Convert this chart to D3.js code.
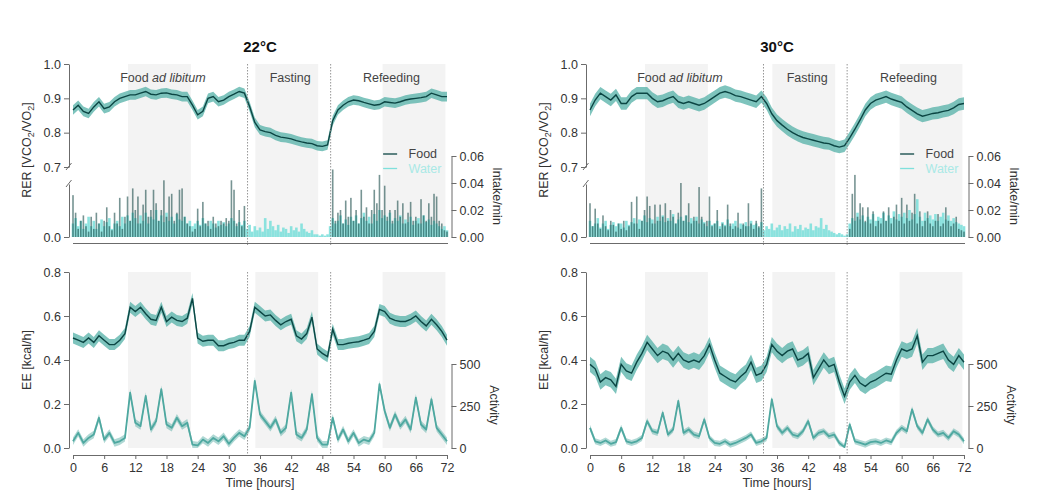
<!DOCTYPE html>
<html>
<head>
<meta charset="utf-8">
<script src="https://cdn.jsdelivr.net/npm/d3@7"></script>
<style>
body { margin: 0; background: #fff; }
svg { font-family: "Liberation Sans", Arial, Helvetica, sans-serif; }
.axis path, .axis line { stroke: #6b6b6b; }
.axis text { fill: #333; font-size: 12.5px; font-family: "Liberation Sans", Arial, sans-serif; }
</style>
</head>
<body>
<svg id="chart" width="1056" height="503"></svg>
<script>
// time grid: hourly means for RER / EE / activity, half-hour bins for intake
var hours = d3.range(0, 73);
var halfHours = d3.range(0, 145).map(function(i) { return i / 2; });
var timeTicks = d3.range(0, 73, 6);
var darkPhases = [[10.6, 22.7], [35.1, 47.2], [59.6, 71.7]];
var phaseLabels = ["Food", "Fasting", "Refeeding"];
var phaseHours = [17.3, 41.8, 61.3];
var titles = ["22°C", "30°C"];
var switchHours = [[33.6, 49.6], [33.4, 49.5]];

var rer22 = [
  0.866,0.88,0.862,0.856,0.875,0.89,0.87,0.875,0.89,0.9,
  0.905,0.91,0.91,0.915,0.92,0.912,0.91,0.915,0.916,0.912,
  0.91,0.905,0.905,0.88,0.852,0.862,0.9,0.905,0.89,0.895,
  0.905,0.912,0.92,0.915,0.876,0.83,0.808,0.803,0.8,0.792,
  0.787,0.785,0.782,0.777,0.773,0.77,0.768,0.762,0.76,0.764,
  0.835,0.866,0.88,0.89,0.895,0.893,0.888,0.884,0.88,0.882,
  0.89,0.888,0.886,0.89,0.895,0.898,0.9,0.902,0.905,0.915,
  0.91,0.905,0.905];
var rer30 = [
  0.866,0.895,0.915,0.905,0.895,0.91,0.885,0.885,0.905,0.915,
  0.915,0.915,0.9,0.89,0.893,0.9,0.905,0.89,0.885,0.89,
  0.885,0.88,0.885,0.895,0.905,0.915,0.92,0.915,0.908,0.905,
  0.9,0.895,0.89,0.905,0.885,0.855,0.835,0.822,0.81,0.8,
  0.792,0.786,0.782,0.778,0.774,0.77,0.768,0.762,0.758,0.762,
  0.785,0.81,0.837,0.866,0.885,0.895,0.9,0.905,0.898,0.893,
  0.888,0.875,0.865,0.855,0.848,0.852,0.856,0.858,0.862,0.865,
  0.872,0.882,0.885];
var ee22 = [
  0.50,0.49,0.48,0.50,0.48,0.51,0.49,0.47,0.47,0.49,
  0.52,0.64,0.62,0.64,0.61,0.585,0.58,0.64,0.575,0.595,
  0.58,0.575,0.59,0.68,0.50,0.485,0.49,0.49,0.465,0.465,
  0.475,0.48,0.49,0.49,0.53,0.64,0.62,0.60,0.605,0.58,
  0.56,0.575,0.585,0.51,0.495,0.52,0.595,0.45,0.43,0.415,
  0.54,0.47,0.47,0.476,0.48,0.483,0.49,0.498,0.53,0.63,
  0.62,0.59,0.58,0.575,0.575,0.585,0.60,0.575,0.555,0.585,
  0.56,0.53,0.49];
var ee30 = [
  0.38,0.36,0.30,0.32,0.31,0.28,0.38,0.35,0.34,0.39,
  0.43,0.48,0.45,0.42,0.44,0.43,0.40,0.43,0.40,0.39,
  0.40,0.39,0.42,0.47,0.40,0.34,0.325,0.31,0.30,0.325,
  0.345,0.39,0.33,0.34,0.38,0.47,0.44,0.42,0.44,0.45,
  0.40,0.41,0.43,0.32,0.36,0.40,0.37,0.38,0.30,0.235,
  0.30,0.33,0.295,0.28,0.30,0.31,0.325,0.34,0.335,0.40,
  0.45,0.44,0.45,0.51,0.39,0.42,0.42,0.43,0.44,0.40,
  0.38,0.42,0.39];
var act22 = [
  40,90,30,60,80,180,50,90,30,40,
  60,330,150,130,310,110,160,350,140,120,
  180,130,150,20,15,50,30,60,40,70,
  25,60,90,70,120,400,200,160,120,170,
  90,120,330,80,60,110,320,60,20,20,
  180,50,110,40,90,30,50,40,90,380,
  220,120,200,130,170,110,300,140,110,290,
  120,80,40];
var act30 = [
  120,40,30,45,25,35,120,40,30,40,
  60,160,100,90,210,80,110,280,90,110,
  80,70,170,60,30,25,40,20,30,45,
  60,80,30,40,60,290,130,90,120,80,
  70,100,160,60,90,100,70,80,30,5,
  140,40,30,20,35,40,30,45,35,90,
  120,100,230,130,90,170,110,80,90,60,
  100,80,40];

var food22 = [
  0.031,0.018,0.006,0.012,0.016,0.008,0.004,0.015,0.006,0.018,0.010,0.004,
  0.012,0.022,0.008,0.005,0.018,0.010,0.029,0.006,0.015,0.030,0.012,0.036,
  0.020,0.030,0.010,0.024,0.035,0.015,0.020,0.035,0.025,0.012,0.020,0.042,
  0.015,0.030,0.032,0.012,0.018,0.035,0.036,0.015,0.010,0.008,0.004,0.006,
  0.021,0.008,0.026,0.010,0.012,0.006,0.015,0.010,0.008,0.012,0.010,0.014,
  0.012,0.042,0.035,0.010,0.020,0.008,0.023,0,0,0,0,0,
  0,0,0,0,0,0,0,0,0,0,0,0,
  0,0,0,0,0,0,0,0,0,0,0,0,
  0,0,0,0,0.050,0.012,0.018,0.020,0.010,0.027,0.015,0.029,
  0.012,0.020,0.010,0.035,0.015,0.022,0.010,0.020,0.035,0.025,0.046,0.020,
  0.038,0.015,0.020,0.012,0.020,0.027,0.015,0.025,0.010,0.018,0.026,0.012,
  0.015,0.010,0.028,0.016,0.012,0.025,0.015,0.032,0.030,0.012,0.010,0.005,
  0.004];
var water22 = [
  0.010,0.014,0.008,0.012,0.006,0.010,0.015,0.008,0.012,0.006,0.010,0.013,
  0.008,0.011,0.014,0.006,0.010,0.012,0.008,0.015,0.010,0.016,0.012,0.018,
  0.014,0.010,0.016,0.012,0.018,0.010,0.015,0.013,0.020,0.012,0.016,0.011,
  0.018,0.012,0.015,0.010,0.017,0.013,0.012,0.015,0.010,0.012,0.008,0.010,
  0.012,0.009,0.014,0.010,0.008,0.012,0.010,0.007,0.012,0.009,0.011,0.008,
  0.010,0.014,0.012,0.008,0.011,0.009,0.012,0.006,0.009,0.004,0.008,0.005,
  0.007,0.004,0.014,0.006,0.012,0.008,0.005,0.009,0.004,0.007,0.006,0.003,
  0.008,0.005,0.007,0.004,0.010,0.006,0.004,0.003,0.005,0.002,0.002,0.001,
  0.002,0.001,0.002,0.008,0.014,0.010,0.012,0.016,0.010,0.013,0.009,0.015,
  0.012,0.016,0.010,0.014,0.018,0.012,0.015,0.010,0.017,0.012,0.020,0.014,
  0.016,0.012,0.018,0.010,0.014,0.012,0.016,0.010,0.013,0.011,0.015,0.009,
  0.012,0.014,0.010,0.016,0.011,0.013,0.009,0.012,0.010,0.008,0.006,0.008,
  0.005];
var food30 = [
  0.025,0.008,0.021,0.010,0.006,0.016,0.008,0.005,0.012,0.009,0.004,0.010,
  0.006,0.012,0.005,0.008,0.026,0.010,0.030,0.006,0.012,0.020,0.030,0.023,
  0.010,0.024,0.012,0.024,0.015,0.025,0.012,0.020,0.015,0.010,0.018,0.040,
  0.012,0.016,0.025,0.010,0.015,0.012,0.037,0.015,0.010,0.012,0.030,0.008,
  0.010,0.020,0.006,0.010,0.008,0.024,0.010,0.006,0.008,0.018,0.006,0.010,
  0.008,0.025,0.010,0.006,0.012,0.008,0.036,0,0,0,0,0,
  0,0,0,0,0,0,0,0,0,0,0,0,
  0,0,0,0,0,0,0,0,0,0,0,0,
  0,0,0,0,0.006,0.032,0.046,0.015,0.025,0.022,0.012,0.022,
  0.010,0.019,0.008,0.012,0.010,0.019,0.012,0.022,0.010,0.015,0.024,0.012,
  0.029,0.010,0.024,0.012,0.018,0.032,0.010,0.019,0.008,0.012,0.019,0.010,
  0.008,0.012,0.017,0.008,0.010,0.022,0.012,0.008,0.010,0.015,0.006,0.005,
  0.004];
var water30 = [
  0.012,0.008,0.010,0.014,0.007,0.010,0.012,0.006,0.009,0.011,0.008,0.010,
  0.010,0.007,0.012,0.009,0.011,0.014,0.010,0.013,0.012,0.016,0.011,0.014,
  0.013,0.010,0.015,0.012,0.016,0.011,0.014,0.012,0.017,0.010,0.013,0.015,
  0.012,0.016,0.011,0.014,0.012,0.015,0.010,0.013,0.011,0.008,0.012,0.009,
  0.010,0.012,0.008,0.011,0.009,0.013,0.008,0.010,0.012,0.007,0.010,0.009,
  0.011,0.008,0.012,0.009,0.010,0.007,0.011,0.005,0.008,0.006,0.010,0.005,
  0.007,0.009,0.005,0.008,0.006,0.010,0.004,0.008,0.006,0.009,0.005,0.007,
  0.006,0.010,0.005,0.008,0.007,0.014,0.006,0.009,0.005,0.004,0.003,0.002,
  0.003,0.002,0.001,0.002,0.010,0.014,0.012,0.018,0.013,0.016,0.011,0.015,
  0.013,0.017,0.012,0.015,0.014,0.018,0.012,0.016,0.014,0.019,0.013,0.017,
  0.015,0.018,0.014,0.020,0.013,0.017,0.028,0.015,0.012,0.018,0.014,0.016,
  0.013,0.017,0.012,0.015,0.018,0.013,0.016,0.012,0.014,0.011,0.010,0.009,
  0.008];

// spread of the group traces (half-width of the light band)
var semRER = [0.014, 0.018];
var semEE = [0.025, 0.035];
var semAct = [22, 18];

var panels = [
  { x0: 73, rer: rer22, ee: ee22, act: act22, food: food22, water: water22 },
  { x0: 590, rer: rer30, ee: ee30, act: act30, food: food30, water: water30 }
];

var svg = d3.select("#chart");

var yRER = d3.scaleLinear().domain([0.7, 1.0]).range([167, 64]);
var yIntake = d3.scaleLinear().domain([0, 0.06]).range([237, 156]);
var yEE = d3.scaleLinear().domain([0, 0.8]).range([448, 272]);
var yAct = d3.scaleLinear().domain([0, 500]).range([448, 364]);

var darkLine = "#0b4543", bandCol = "#47aba1", actCol = "#4ea8a0";
var foodCol = "#1d4d4b", waterCol = "#7fe0dc";

panels.forEach(function(p, pi) {
  var x = d3.scaleLinear().domain([0, 72]).range([p.x0, p.x0 + 374]);
  var axL = p.x0 - 4, axR = p.x0 + 378.5;
  var g = svg.append("g");

  // night shading
  g.selectAll(".shTop").data(darkPhases).enter().append("rect")
    .attr("x", function(d) { return x(d[0]); })
    .attr("width", function(d) { return x(d[1]) - x(d[0]); })
    .attr("y", yRER(1.0)).attr("height", yIntake(0) - yRER(1.0))
    .style("fill", "#f3f3f3");
  g.selectAll(".shBot").data(darkPhases).enter().append("rect")
    .attr("x", function(d) { return x(d[0]); })
    .attr("width", function(d) { return x(d[1]) - x(d[0]); })
    .attr("y", yEE(0.8)).attr("height", yEE(0) - yEE(0.8))
    .style("fill", "#f3f3f3");

  // intake bars
  g.selectAll(".water").data(p.water).enter().append("rect")
    .attr("x", function(d, i) { return x(halfHours[i]) - 1.3; })
    .attr("width", 2.6)
    .attr("y", function(d) { return yIntake(d); })
    .attr("height", function(d) { return yIntake(0) - yIntake(d); })
    .style("fill", waterCol).style("opacity", 0.9);
  g.selectAll(".food").data(p.food).enter().append("rect")
    .attr("x", function(d, i) { return x(halfHours[i]) - 0.8; })
    .attr("width", 1.6)
    .attr("y", function(d) { return yIntake(d); })
    .attr("height", function(d) { return yIntake(0) - yIntake(d); })
    .style("fill", foodCol).style("opacity", 0.6);

  // RER band + mean
  var rerBand = d3.area()
    .x(function(d, i) { return x(hours[i]); })
    .y0(function(d) { return yRER(d - semRER[pi]); })
    .y1(function(d) { return yRER(d + semRER[pi]); });
  var rerLine = d3.line()
    .x(function(d, i) { return x(hours[i]); })
    .y(function(d) { return yRER(d); });
  g.append("path").datum(p.rer).attr("d", rerBand)
    .style("fill", bandCol).style("opacity", 0.7);
  g.append("path").datum(p.rer).attr("d", rerLine)
    .style("fill", "none").style("stroke", darkLine).style("stroke-width", 1.4);

  // EE band + mean
  var eeBand = d3.area()
    .x(function(d, i) { return x(hours[i]); })
    .y0(function(d) { return yEE(d - semEE[pi]); })
    .y1(function(d) { return yEE(d + semEE[pi]); });
  var eeLine = d3.line()
    .x(function(d, i) { return x(hours[i]); })
    .y(function(d) { return yEE(d); });
  g.append("path").datum(p.ee).attr("d", eeBand)
    .style("fill", bandCol).style("opacity", 0.7);
  g.append("path").datum(p.ee).attr("d", eeLine)
    .style("fill", "none").style("stroke", darkLine).style("stroke-width", 1.4);

  // activity
  var actBand = d3.area()
    .x(function(d, i) { return x(hours[i]); })
    .y0(function(d) { return yAct(Math.max(0, d - semAct[pi])); })
    .y1(function(d) { return yAct(d + semAct[pi]); });
  var actLine = d3.line()
    .x(function(d, i) { return x(hours[i]); })
    .y(function(d) { return yAct(d); });
  g.append("path").datum(p.act).attr("d", actBand)
    .style("fill", actCol).style("opacity", 0.45);
  g.append("path").datum(p.act).attr("d", actLine)
    .style("fill", "none").style("stroke", actCol).style("stroke-width", 1.8)
    .style("stroke-linejoin", "round");

  // phase switch lines
  switchHours[pi].forEach(function(h) {
    [[yRER(1.0), 245], [yEE(0.8), 455]].forEach(function(r) {
      g.append("line").attr("x1", x(h)).attr("x2", x(h))
        .attr("y1", r[0]).attr("y2", r[1])
        .style("stroke", "#8a8a8a").style("stroke-width", 0.9)
        .style("stroke-dasharray", "1.5,1.5");
    });
  });

  // axes
  g.append("g").attr("class", "axis").attr("transform", "translate(" + axL + ",0)")
    .call(d3.axisLeft(yRER).tickValues([0.7, 0.8, 0.9, 1.0])
      .tickFormat(d3.format(".1f")).tickSize(5).tickPadding(3).tickSizeOuter(0));
  var yLow = d3.scaleLinear().domain([0, yIntake.invert(184)]).range([237, 184]);
  g.append("g").attr("class", "axis").attr("transform", "translate(" + axL + ",0)")
    .call(d3.axisLeft(yLow).tickValues([0])
      .tickFormat(d3.format(".1f")).tickSize(5).tickPadding(3).tickSizeOuter(0));
  [170, 187].forEach(function(yb) {
    g.append("line").attr("x1", axL - 3).attr("x2", axL + 2.5)
      .attr("y1", yb).attr("y2", yb - 7)
      .style("stroke", "#6b6b6b").style("stroke-width", 1);
  });
  g.append("line").attr("x1", x(0)).attr("x2", x(72) + 1)
    .attr("y1", 243.5).attr("y2", 243.5)
    .style("stroke", "#6b6b6b").style("stroke-width", 1);

  g.append("g").attr("class", "axis").attr("transform", "translate(" + axR + ",0)")
    .call(d3.axisRight(yIntake).tickValues([0, 0.02, 0.04, 0.06])
      .tickFormat(d3.format(".2f")).tickSize(5).tickPadding(3).tickSizeOuter(0));

  g.append("g").attr("class", "axis").attr("transform", "translate(" + axL + ",0)")
    .call(d3.axisLeft(yEE).tickValues([0, 0.2, 0.4, 0.6, 0.8])
      .tickFormat(d3.format(".1f")).tickSize(5).tickPadding(3).tickSizeOuter(0));
  g.append("g").attr("class", "axis").attr("transform", "translate(" + axR + ",0)")
    .call(d3.axisRight(yAct).tickValues([0, 250, 500])
      .tickSize(5).tickPadding(3).tickSizeOuter(0));
  g.append("g").attr("class", "axis").attr("transform", "translate(0,455)")
    .call(d3.axisBottom(x).tickValues(timeTicks)
      .tickSize(4).tickPadding(4).tickSizeOuter(0));

  // texts
  g.append("text").attr("x", x(36)).attr("y", 52).attr("text-anchor", "middle")
    .style("font-size", "15px").style("font-weight", "bold").style("fill", "#111")
    .text(titles[pi]);

  phaseLabels.forEach(function(t, i) {
    var tx = g.append("text").attr("x", x(phaseHours[i])).attr("y", 82)
      .attr("text-anchor", "middle").style("font-size", "12.5px").style("fill", "#444");
    if (i === 0) {
      tx.append("tspan").text("Food ");
      tx.append("tspan").style("font-style", "italic").text("ad libitum");
    } else {
      tx.text(t);
    }
  });

  var rl = g.append("text").attr("transform", "translate(" + (p.x0 - 42) + ",150) rotate(-90)")
    .attr("text-anchor", "middle").style("font-size", "12.5px").style("fill", "#333");
  rl.append("tspan").text("RER [VCO");
  rl.append("tspan").attr("dy", 3).style("font-size", "9px").text("2");
  rl.append("tspan").attr("dy", -3).text("/VO");
  rl.append("tspan").attr("dy", 3).style("font-size", "9px").text("2");
  rl.append("tspan").attr("dy", -3).text("]");

  g.append("text").attr("transform", "translate(" + (p.x0 - 42) + ",360) rotate(-90)")
    .attr("text-anchor", "middle").style("font-size", "12.5px").style("fill", "#333")
    .text("EE [kcal/h]");
  g.append("text").attr("transform", "translate(" + (axR + 41) + ",196) rotate(90)")
    .attr("text-anchor", "middle").style("font-size", "12.5px").style("fill", "#333")
    .text("Intake/min");
  g.append("text").attr("transform", "translate(" + (axR + 38) + ",405) rotate(90)")
    .attr("text-anchor", "middle").style("font-size", "12.5px").style("fill", "#333")
    .text("Activity");
  g.append("text").attr("x", x(36)).attr("y", 487).attr("text-anchor", "middle")
    .style("font-size", "12.5px").style("fill", "#333").text("Time [hours]");

  // legend
  var lg = [["Food", darkLine, "#444"], ["Water", waterCol, "#a9e9e6"]];
  lg.forEach(function(d, i) {
    var ly = 154 + i * 14.5;
    g.append("line").attr("x1", x(59.7)).attr("x2", x(62.4))
      .attr("y1", ly).attr("y2", ly)
      .style("stroke", d[1]).style("stroke-width", 1.3);
    g.append("text").attr("x", x(64.6)).attr("y", ly).attr("dy", "0.35em")
      .style("font-size", "12.5px").style("fill", d[2]).text(d[0]);
  });
});
</script>
</body>
</html>
